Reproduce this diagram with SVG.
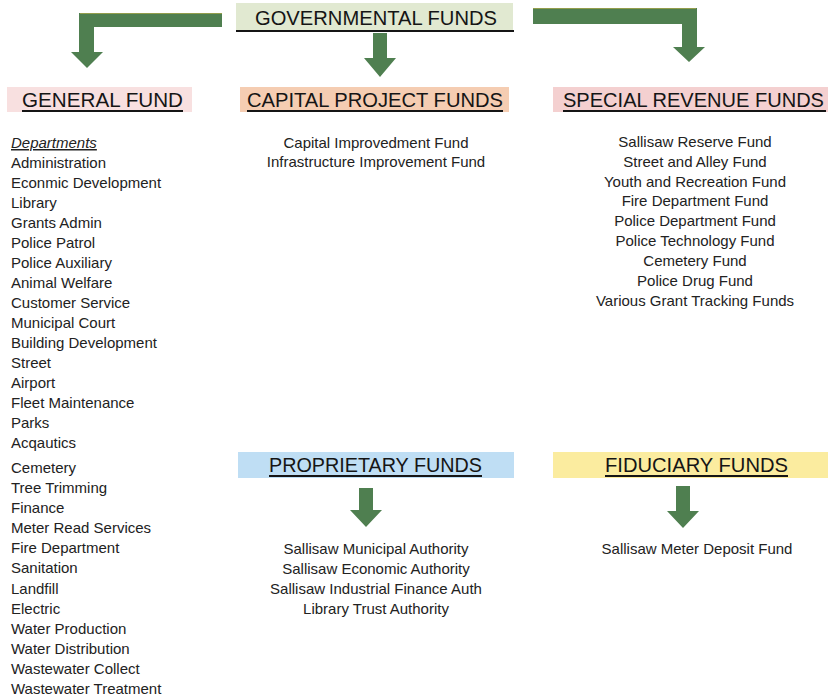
<svg xmlns="http://www.w3.org/2000/svg" width="828" height="700" viewBox="0 0 828 700">
  <style>
    .hdr { font-family: "Liberation Sans", Arial, sans-serif; font-size: 20px; fill: #151515; }
    .uline { fill: #151515; }
    .item { font-family: "Liberation Sans", Arial, sans-serif; font-size: 15px; fill: #222222; }
    .mid { text-anchor: middle; }
    .arrow { fill: #4f7f50; }
    .edge { stroke: #c2b24a; stroke-width: 1; fill: none; opacity: 0.6; }
  </style>

  <rect width="828" height="700" fill="#ffffff"/>

  <!-- connectors: flow arrows -->
  <g id="connectors">
    <!-- governmental -> general fund (bent left) -->
    <path class="arrow" d="M222,13 L79,13 L79,52 L71,52 L87,68 L103,52 L94,52 L94,27 L222,27 Z"/>
    <line class="edge" x1="80" y1="13.5" x2="222" y2="13.5"/>
    <!-- governmental -> capital project funds -->
    <path class="arrow" d="M373,33 L387,33 L387,58 L396,58 L380,77 L364,58 L373,58 Z"/>
    <!-- governmental -> special revenue funds (bent right) -->
    <path class="arrow" d="M533,8 L697,8 L697,47 L705,47 L689,62 L673,47 L682,47 L682,24 L533,24 Z"/>
    <line class="edge" x1="533" y1="8.5" x2="696" y2="8.5"/>
    <!-- proprietary funds -> its list -->
    <path class="arrow" d="M359,488 L373,488 L373,510 L382,510 L366,527 L350,510 L359,510 Z"/>
    <!-- fiduciary funds -> its list -->
    <path class="arrow" d="M676,486 L690,486 L690,511 L699,511 L683,528 L667,511 L676,511 Z"/>
  </g>

  <!-- Governmental Funds -->
  <g id="governmental-funds">
    <rect x="236" y="3" width="277" height="27" fill="#e1e9d1"/>
    <text class="hdr" x="255" y="25" textLength="242" lengthAdjust="spacingAndGlyphs">GOVERNMENTAL FUNDS</text>
    <rect class="uline" x="236" y="30" width="278" height="2"/>
  </g>

  <!-- General Fund -->
  <g id="general-fund">
    <rect x="7" y="87" width="185" height="25" fill="#f8e0e0"/>
    <text class="hdr" x="22" y="107" textLength="161" lengthAdjust="spacingAndGlyphs">GENERAL FUND</text>
    <rect class="uline" x="22" y="110" width="161" height="2"/>
    <text class="item" x="11" y="148" font-style="italic" text-decoration="underline">Departments</text>
    <g class="item">
      <text x="11" y="168">Administration</text>
      <text x="11" y="188">Econmic Development</text>
      <text x="11" y="208">Library</text>
      <text x="11" y="228">Grants Admin</text>
      <text x="11" y="248">Police Patrol</text>
      <text x="11" y="268">Police Auxiliary</text>
      <text x="11" y="288">Animal Welfare</text>
      <text x="11" y="308">Customer Service</text>
      <text x="11" y="328">Municipal Court</text>
      <text x="11" y="348">Building Development</text>
      <text x="11" y="368">Street</text>
      <text x="11" y="388">Airport</text>
      <text x="11" y="408">Fleet Maintenance</text>
      <text x="11" y="428">Parks</text>
      <text x="11" y="448">Acqautics</text>
      <text x="11" y="473">Cemetery</text>
      <text x="11" y="493">Tree Trimming</text>
      <text x="11" y="513">Finance</text>
      <text x="11" y="533">Meter Read Services</text>
      <text x="11" y="553">Fire Department</text>
      <text x="11" y="573">Sanitation</text>
      <text x="11" y="594">Landfill</text>
      <text x="11" y="614">Electric</text>
      <text x="11" y="634">Water Production</text>
      <text x="11" y="654">Water Distribution</text>
      <text x="11" y="674">Wastewater Collect</text>
      <text x="11" y="694">Wastewater Treatment</text>
    </g>
  </g>

  <!-- Capital Project Funds -->
  <g id="capital-project-funds">
    <rect x="240" y="87" width="269" height="25" fill="#f5cdb2"/>
    <text class="hdr" x="247" y="107" textLength="256" lengthAdjust="spacingAndGlyphs">CAPITAL PROJECT FUNDS</text>
    <rect class="uline" x="247" y="110" width="256" height="2"/>
    <g class="item mid">
      <text x="376" y="148">Capital Improvedment Fund</text>
      <text x="376" y="167">Infrastructure Improvement Fund</text>
    </g>
  </g>

  <!-- Special Revenue Funds -->
  <g id="special-revenue-funds">
    <rect x="553" y="87" width="275" height="25" fill="#f4d0d0"/>
    <text class="hdr" x="563" y="107" textLength="261" lengthAdjust="spacingAndGlyphs">SPECIAL REVENUE FUNDS</text>
    <rect class="uline" x="563" y="110" width="263" height="2"/>
    <g class="item mid">
      <text x="695" y="147">Sallisaw Reserve Fund</text>
      <text x="695" y="167">Street and Alley Fund</text>
      <text x="695" y="187">Youth and Recreation Fund</text>
      <text x="695" y="206">Fire Department Fund</text>
      <text x="695" y="226">Police Department Fund</text>
      <text x="695" y="246">Police Technology Fund</text>
      <text x="695" y="266">Cemetery Fund</text>
      <text x="695" y="286">Police Drug Fund</text>
      <text x="695" y="306">Various Grant Tracking Funds</text>
    </g>
  </g>

  <!-- Proprietary Funds -->
  <g id="proprietary-funds">
    <rect x="238" y="452" width="276" height="26" fill="#bfdef4"/>
    <text class="hdr" x="269" y="472" textLength="213" lengthAdjust="spacingAndGlyphs">PROPRIETARY FUNDS</text>
    <rect class="uline" x="269" y="475" width="213" height="2"/>
    <g class="item mid">
      <text x="376" y="554">Sallisaw Municipal Authority</text>
      <text x="376" y="574">Sallisaw Economic Authority</text>
      <text x="376" y="594">Sallisaw Industrial Finance Auth</text>
      <text x="376" y="614">Library Trust Authority</text>
    </g>
  </g>

  <!-- Fiduciary Funds -->
  <g id="fiduciary-funds">
    <rect x="553" y="452" width="275" height="26" fill="#fbec9f"/>
    <text class="hdr" x="605" y="472" textLength="183" lengthAdjust="spacingAndGlyphs">FIDUCIARY FUNDS</text>
    <rect class="uline" x="605" y="475" width="183" height="2"/>
    <g class="item mid">
      <text x="697" y="554">Sallisaw Meter Deposit Fund</text>
    </g>
  </g>
</svg>
